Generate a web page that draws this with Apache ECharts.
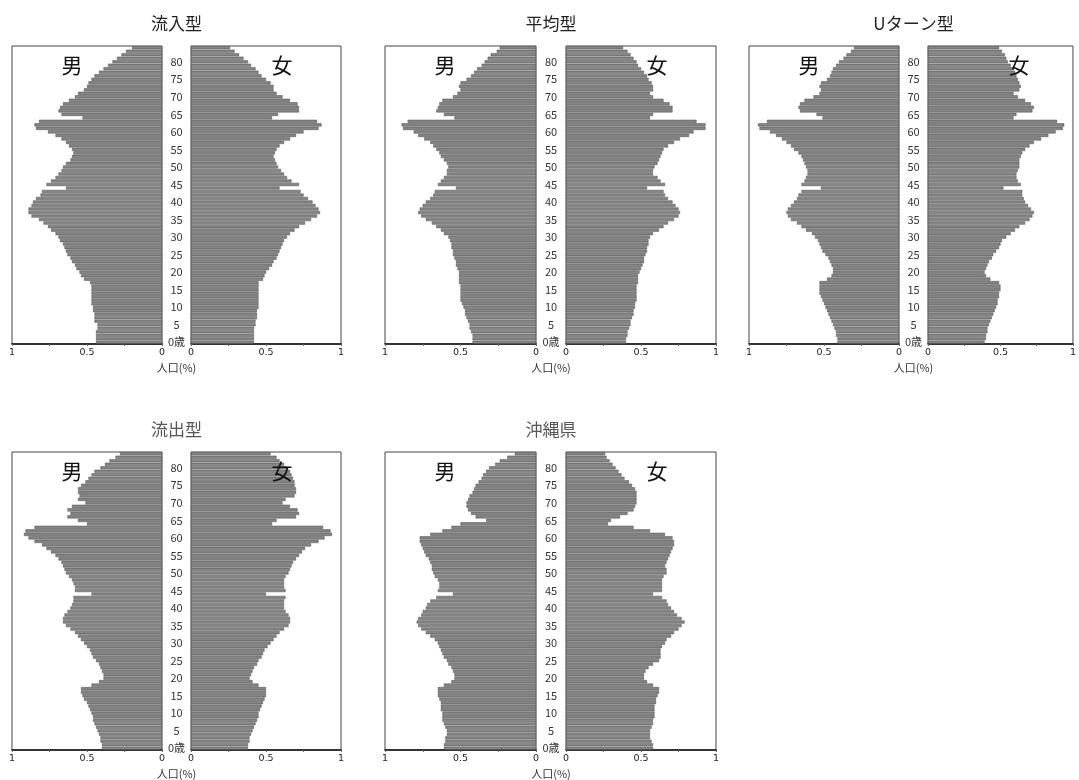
<!DOCTYPE html>
<html>
<head>
<meta charset="utf-8">
<script src="https://cdn.jsdelivr.net/npm/echarts@6/dist/echarts.min.js"></script>
<style>
  html, body { margin: 0; padding: 0; background: #fff; }
  #chart { width: 1079px; height: 780px; }
</style>
</head>
<body>
<div id="chart"></div>
<script>
// Single-year age classes 0..84 (bottom to top)
const ages = Array.from({ length: 85 }, (_, i) => String(i));
const xTicks = [0, 0.5, 1];

// Population share (%) by single year of age, 0..84
const inflowMale = [
  0.44,0.44,0.44,0.44,0.43, 0.43,0.45,0.45,0.45,0.46, 0.46,0.47,0.47,0.47,0.47,
  0.47,0.47,0.48,0.52,0.54, 0.55,0.57,0.58,0.60,0.61, 0.63,0.64,0.65,0.66,0.68,
  0.69,0.71,0.74,0.76,0.79, 0.82,0.87,0.89,0.89,0.87, 0.86,0.84,0.81,0.80,0.64,
  0.77,0.74,0.71,0.69,0.67, 0.66,0.64,0.61,0.60,0.59, 0.60,0.62,0.64,0.67,0.71,
  0.76,0.84,0.85,0.82,0.53, 0.67,0.69,0.68,0.66,0.62, 0.58,0.56,0.52,0.50,0.49,
  0.47,0.45,0.42,0.39,0.36, 0.33,0.30,0.27,0.24,0.20
];
const inflowFemale = [
  0.42,0.42,0.42,0.42,0.42, 0.43,0.43,0.44,0.44,0.44, 0.45,0.45,0.45,0.45,0.45,
  0.45,0.45,0.45,0.48,0.49, 0.50,0.52,0.54,0.55,0.57, 0.58,0.59,0.60,0.61,0.62,
  0.64,0.66,0.69,0.72,0.76, 0.80,0.84,0.86,0.85,0.83, 0.81,0.78,0.75,0.73,0.59,
  0.72,0.67,0.64,0.62,0.60, 0.58,0.57,0.56,0.55,0.56, 0.57,0.59,0.62,0.66,0.70,
  0.75,0.85,0.87,0.84,0.54, 0.58,0.72,0.72,0.71,0.66, 0.61,0.57,0.55,0.55,0.53,
  0.50,0.47,0.45,0.43,0.40, 0.38,0.35,0.32,0.29,0.26
];
const averageMale = [
  0.42,0.42,0.42,0.43,0.44, 0.44,0.45,0.46,0.47,0.47, 0.48,0.49,0.50,0.50,0.50,
  0.50,0.50,0.51,0.51,0.51, 0.51,0.52,0.53,0.53,0.54, 0.55,0.55,0.56,0.56,0.57,
  0.58,0.61,0.63,0.66,0.69, 0.73,0.76,0.78,0.77,0.75, 0.73,0.70,0.68,0.67,0.53,
  0.65,0.63,0.61,0.59,0.59, 0.58,0.59,0.61,0.63,0.64, 0.66,0.68,0.70,0.74,0.78,
  0.81,0.88,0.89,0.85,0.54, 0.61,0.66,0.65,0.64,0.62, 0.55,0.52,0.50,0.51,0.50,
  0.46,0.43,0.41,0.39,0.36, 0.34,0.32,0.30,0.26,0.24
];
const averageFemale = [
  0.40,0.40,0.41,0.41,0.42, 0.43,0.43,0.44,0.45,0.45, 0.46,0.46,0.47,0.47,0.47,
  0.47,0.47,0.48,0.48,0.48, 0.49,0.50,0.51,0.52,0.52, 0.53,0.54,0.54,0.55,0.55,
  0.56,0.58,0.62,0.65,0.68, 0.72,0.75,0.76,0.75,0.73, 0.71,0.68,0.66,0.65,0.54,
  0.66,0.63,0.61,0.58,0.58, 0.59,0.61,0.62,0.63,0.64, 0.65,0.68,0.72,0.76,0.82,
  0.85,0.93,0.93,0.87,0.56, 0.58,0.71,0.71,0.69,0.65, 0.58,0.56,0.58,0.58,0.57,
  0.55,0.54,0.52,0.50,0.48, 0.47,0.45,0.43,0.41,0.38
];
const uturnMale = [
  0.41,0.41,0.42,0.42,0.43, 0.44,0.45,0.46,0.47,0.48, 0.49,0.50,0.51,0.52,0.53,
  0.53,0.53,0.53,0.48,0.45, 0.44,0.44,0.45,0.46,0.47, 0.49,0.51,0.52,0.53,0.54,
  0.56,0.58,0.62,0.65,0.68, 0.72,0.74,0.75,0.74,0.72, 0.70,0.68,0.67,0.65,0.52,
  0.65,0.63,0.62,0.61,0.61, 0.62,0.63,0.64,0.65,0.67, 0.70,0.72,0.75,0.78,0.82,
  0.86,0.93,0.94,0.88,0.51, 0.55,0.66,0.67,0.66,0.63, 0.57,0.53,0.52,0.53,0.52,
  0.48,0.46,0.45,0.44,0.42, 0.40,0.37,0.35,0.32,0.30
];
const uturnFemale = [
  0.39,0.40,0.40,0.41,0.41, 0.42,0.43,0.44,0.45,0.46, 0.47,0.48,0.48,0.49,0.49,
  0.50,0.50,0.49,0.43,0.40, 0.39,0.40,0.41,0.42,0.44, 0.45,0.47,0.49,0.50,0.51,
  0.54,0.57,0.60,0.63,0.67, 0.70,0.72,0.73,0.71,0.69, 0.67,0.66,0.65,0.65,0.52,
  0.64,0.62,0.61,0.61,0.62, 0.63,0.63,0.63,0.64,0.65, 0.67,0.70,0.73,0.78,0.83,
  0.88,0.93,0.94,0.89,0.59, 0.61,0.72,0.73,0.71,0.67, 0.62,0.59,0.63,0.64,0.63,
  0.62,0.61,0.60,0.59,0.57, 0.55,0.54,0.53,0.51,0.49
];
const outflowMale = [
  0.40,0.40,0.41,0.41,0.42, 0.43,0.44,0.45,0.46,0.46, 0.47,0.48,0.49,0.50,0.52,
  0.53,0.54,0.54,0.47,0.42, 0.39,0.39,0.40,0.41,0.42, 0.44,0.46,0.47,0.48,0.50,
  0.52,0.54,0.56,0.58,0.61, 0.64,0.66,0.66,0.65,0.63, 0.61,0.60,0.59,0.59,0.47,
  0.58,0.58,0.59,0.60,0.62, 0.64,0.65,0.66,0.67,0.69, 0.71,0.74,0.77,0.80,0.85,
  0.89,0.92,0.91,0.85,0.50, 0.56,0.63,0.61,0.63,0.60, 0.51,0.56,0.55,0.56,0.56,
  0.54,0.51,0.49,0.47,0.45, 0.41,0.38,0.35,0.31,0.28
];
const outflowFemale = [
  0.38,0.38,0.39,0.39,0.40, 0.41,0.42,0.43,0.44,0.45, 0.45,0.46,0.47,0.48,0.49,
  0.50,0.50,0.50,0.45,0.41, 0.39,0.40,0.41,0.42,0.44, 0.45,0.47,0.48,0.49,0.51,
  0.53,0.55,0.57,0.59,0.62, 0.65,0.66,0.66,0.65,0.63, 0.62,0.62,0.62,0.63,0.50,
  0.63,0.62,0.62,0.62,0.63, 0.65,0.66,0.67,0.68,0.70, 0.72,0.74,0.76,0.80,0.85,
  0.89,0.94,0.93,0.88,0.54, 0.57,0.70,0.72,0.71,0.66, 0.61,0.63,0.69,0.70,0.70,
  0.69,0.69,0.68,0.67,0.66, 0.64,0.62,0.59,0.57,0.53
];
const okinawaMale = [
  0.61,0.61,0.60,0.60,0.59, 0.59,0.60,0.61,0.62,0.62, 0.62,0.63,0.63,0.63,0.64,
  0.65,0.65,0.65,0.61,0.56, 0.54,0.54,0.55,0.56,0.58, 0.59,0.61,0.62,0.63,0.64,
  0.65,0.67,0.70,0.73,0.76, 0.78,0.79,0.78,0.76,0.75, 0.73,0.72,0.70,0.66,0.55,
  0.65,0.64,0.64,0.65,0.67, 0.68,0.69,0.69,0.70,0.71, 0.73,0.74,0.75,0.76,0.77,
  0.77,0.70,0.62,0.56,0.50, 0.33,0.40,0.43,0.45,0.46, 0.46,0.45,0.44,0.42,0.41,
  0.40,0.38,0.36,0.35,0.33, 0.31,0.27,0.24,0.19,0.14
];
const okinawaFemale = [
  0.58,0.58,0.57,0.56,0.56, 0.56,0.57,0.58,0.58,0.59, 0.59,0.59,0.59,0.60,0.60,
  0.61,0.62,0.62,0.58,0.54, 0.52,0.52,0.53,0.55,0.58, 0.62,0.63,0.63,0.63,0.64,
  0.66,0.67,0.70,0.72,0.75, 0.77,0.79,0.77,0.74,0.72, 0.70,0.68,0.67,0.64,0.58,
  0.64,0.64,0.64,0.64,0.65, 0.67,0.67,0.66,0.67,0.68, 0.69,0.70,0.71,0.72,0.72,
  0.71,0.66,0.56,0.45,0.28, 0.30,0.36,0.41,0.45,0.46, 0.47,0.47,0.47,0.47,0.46,
  0.44,0.42,0.39,0.37,0.35, 0.33,0.31,0.29,0.27,0.26
];

// Panel contents
const panels = [
  { title: '流入型',    male: inflowMale,  female: inflowFemale },
  { title: '平均型',    male: averageMale, female: averageFemale },
  { title: 'Uターン型', male: uturnMale,   female: uturnFemale },
  { title: '流出型',    male: outflowMale, female: outflowFemale },
  { title: '沖縄県',    male: okinawaMale, female: okinawaFemale }
];

// Panel placement on the page (px)
const layout = [
  { mL: 12,  mW: 150, fL: 191, fW: 150, top: 46,  titleColor: '#222' },
  { mL: 385, mW: 151, fL: 566, fW: 150, top: 46,  titleColor: '#222' },
  { mL: 749, mW: 150, fL: 928, fW: 150, top: 46,  titleColor: '#222' },
  { mL: 12,  mW: 150, fL: 191, fW: 150, top: 452, titleColor: '#555' },
  { mL: 385, mW: 151, fL: 566, fW: 150, top: 452, titleColor: '#555' }
];
const PLOT_H = 298;
const BAR_COLOR = '#858585';
const CJK = '"Noto Sans CJK JP", "Noto Sans", sans-serif';

const grid = [], xAxis = [], yAxis = [], series = [], graphic = [];

panels.forEach((p, i) => {
  const L = layout[i];
  const halves = [
    { side: 'male',   left: L.mL, width: L.mW, data: p.male,   inverse: true },
    { side: 'female', left: L.fL, width: L.fW, data: p.female, inverse: false }
  ];
  halves.forEach(h => {
    const idx = grid.length;
    grid.push({
      left: h.left, top: L.top, width: h.width, height: PLOT_H,
      show: true, borderColor: '#444', borderWidth: 1, containLabel: false
    });
    xAxis.push({
      gridIndex: idx, type: 'value', min: 0, max: 1, interval: 0.25,
      inverse: h.inverse,
      splitLine: { show: false },
      axisLine: { show: true, onZero: false, lineStyle: { color: '#111', width: 1.6 } },
      axisTick: { show: true, length: 2, lineStyle: { color: '#666' } },
      axisLabel: {
        show: true, fontSize: 9.5, color: '#222', margin: 4,
        fontFamily: 'DejaVu Sans, sans-serif',
        formatter: v => (xTicks.indexOf(v) >= 0 ? String(v) : ''),
        showMinLabel: true, showMaxLabel: true, hideOverlap: false
      }
    });
    yAxis.push({
      gridIndex: idx, type: 'category', data: ages,
      axisLine: { show: false }, axisTick: { show: false },
      splitLine: { show: false },
      axisLabel: h.side === 'female' ? {
        show: true, align: 'center', margin: (L.fL - (L.mL + L.mW)) / 2,
        fontSize: 11, color: '#333', fontFamily: CJK,
        interval: (index) => index % 5 === 0,
        formatter: v => (v === '0' ? '0歳' : v)
      } : { show: false }
    });
    series.push({
      type: 'bar', xAxisIndex: idx, yAxisIndex: idx,
      data: h.data, barCategoryGap: '10%',
      itemStyle: { color: BAR_COLOR, borderColor: '#4a4a4a', borderWidth: 0.5 },
      silent: true, animation: false
    });
  });

  const gapCenter = (L.mL + L.mW + L.fL) / 2;
  graphic.push({
    type: 'text', left: gapCenter, top: L.top - 31, z: 10,
    style: { text: p.title, fill: L.titleColor, font: '17px ' + CJK, textAlign: 'center' }
  });
  graphic.push({
    type: 'text', x: gapCenter, y: L.top + PLOT_H + 18, z: 10,
    style: { text: '人口(%)', fill: '#333', font: '11px ' + CJK, textAlign: 'center' }
  });
  graphic.push({
    type: 'text', x: L.mL + 60, y: L.top + 9, z: 10,
    style: { text: '男', fill: '#111', font: '21px ' + CJK, textAlign: 'center' }
  });
  graphic.push({
    type: 'text', x: L.fL + 91, y: L.top + 9, z: 10,
    style: { text: '女', fill: '#111', font: '21px ' + CJK, textAlign: 'center' }
  });
});

// Title texts centred on the gap
graphic.forEach(g => {
  if (g.left !== undefined) { g.x = g.left; g.y = g.top; delete g.left; delete g.top; }
});

const chart = echarts.init(document.getElementById('chart'), null, { renderer: 'canvas' });
chart.setOption({
  animation: false,
  backgroundColor: '#fff',
  grid, xAxis, yAxis, series, graphic
});
</script>
</body>
</html>
